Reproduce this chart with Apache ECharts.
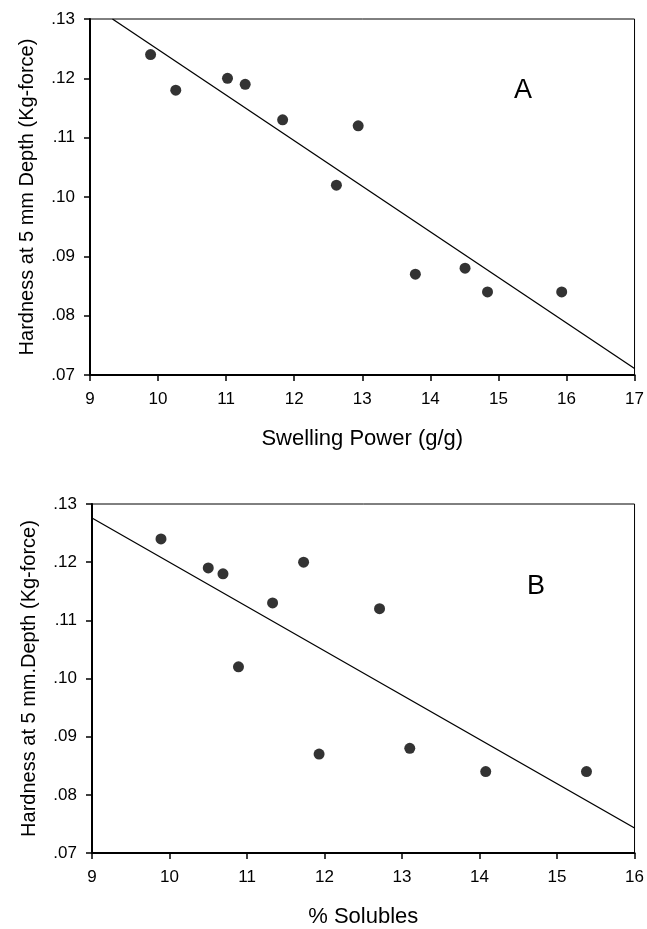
<!DOCTYPE html>
<html>
<head>
<meta charset="utf-8">
<script src="https://cdn.jsdelivr.net/npm/echarts@6/dist/echarts.min.js"></script>
<style>
  html, body { margin: 0; padding: 0; background: #fff; }
  #chart { width: 647px; height: 929px; }
</style>
</head>
<body>
<div id="chart"></div>
<script>
// panel A: swelling power vs hardness
const swellingPower = [9.89, 10.26, 11.02, 11.28, 11.83, 12.94, 12.62, 13.78, 14.51, 14.84, 15.93]
const hardnessA = [0.124, 0.118, 0.120, 0.119, 0.113, 0.112, 0.102, 0.087, 0.088, 0.084, 0.084]
// fitted line, end points
const fitAx = [9.33, 17]
const fitAy = [0.130, 0.0711]

// panel B: % solubles vs hardness
const solubles = [9.89, 10.50, 10.69, 11.73, 11.33, 10.89, 12.71, 11.93, 13.10, 14.08, 15.38]
const hardnessB = [0.124, 0.119, 0.118, 0.120, 0.113, 0.102, 0.112, 0.087, 0.088, 0.084, 0.084]
const fitBx = [9, 16]
const fitBy = [0.1276, 0.0743]

const font = 'Liberation Sans, Arial, sans-serif'

function pairs(xs, ys) {
  return xs.map((x, i) => [x, ys[i]])
}

function xAxisOf(gridIndex, min, max, name) {
  return {
    type: 'value',
    gridIndex: gridIndex,
    min: min,
    max: max,
    interval: 1,
    name: name,
    nameLocation: 'middle',
    nameGap: 53,
    nameTextStyle: { fontFamily: font, fontSize: 22, color: '#000' },
    axisLine: { show: true, lineStyle: { color: '#000', width: 2 } },
    axisTick: { show: true, inside: false, length: 6, lineStyle: { color: '#000', width: 1.5 } },
    axisLabel: { margin: 16, fontFamily: font, fontSize: 17, color: '#000' },
    splitLine: { show: false }
  }
}

function yAxisOf(gridIndex, name) {
  return {
    type: 'value',
    gridIndex: gridIndex,
    min: 0.07,
    max: 0.13,
    interval: 0.01,
    name: name,
    nameLocation: 'middle',
    nameGap: 53,
    nameTextStyle: { fontFamily: font, fontSize: 20, color: '#000' },
    axisLine: { show: true, lineStyle: { color: '#000', width: 2 } },
    axisTick: { show: true, inside: false, length: 6, lineStyle: { color: '#000', width: 1.5 } },
    axisLabel: {
      margin: 15,
      fontFamily: font,
      fontSize: 17,
      color: '#000',
      formatter: function (v) {
        return v.toFixed(2).replace(/^0/, '')
      }
    },
    splitLine: { show: false }
  }
}

const chart = echarts.init(document.getElementById('chart'), null, { renderer: 'canvas' })

const option = {
  animation: false,
  backgroundColor: '#fff',
  grid: [
    { left: 90, top: 19, width: 545, height: 356, show: true, borderColor: '#000', borderWidth: 1, backgroundColor: 'transparent' },
    { left: 92, top: 504, width: 544, height: 350, show: true, borderColor: '#000', borderWidth: 1, backgroundColor: 'transparent' }
  ],
  xAxis: [
    xAxisOf(0, 9, 17, 'Swelling Power (g/g)'),
    xAxisOf(1, 9, 16, '% Solubles')
  ],
  yAxis: [
    yAxisOf(0, 'Hardness at 5 mm Depth (Kg-force)'),
    yAxisOf(1, 'Hardness at 5 mm.Depth (Kg-force)')
  ],
  graphic: [
    { type: 'text', left: 514, top: 77, style: { text: 'A', font: '27px ' + font, fill: '#000' } },
    { type: 'text', left: 527, top: 573, style: { text: 'B', font: '27px ' + font, fill: '#000' } }
  ],
  series: [
    {
      type: 'line',
      xAxisIndex: 0,
      yAxisIndex: 0,
      data: pairs(fitAx, fitAy),
      symbol: 'none',
      lineStyle: { color: '#000', width: 1.3 },
      z: 2
    },
    {
      type: 'scatter',
      xAxisIndex: 0,
      yAxisIndex: 0,
      data: pairs(swellingPower, hardnessA),
      symbol: 'circle',
      symbolSize: 11,
      itemStyle: { color: '#000' },
      z: 3
    },
    {
      type: 'line',
      xAxisIndex: 1,
      yAxisIndex: 1,
      data: pairs(fitBx, fitBy),
      symbol: 'none',
      lineStyle: { color: '#000', width: 1.3 },
      z: 2
    },
    {
      type: 'scatter',
      xAxisIndex: 1,
      yAxisIndex: 1,
      data: pairs(solubles, hardnessB),
      symbol: 'circle',
      symbolSize: 11,
      itemStyle: { color: '#000' },
      z: 3
    }
  ]
}

chart.setOption(option)
</script>
</body>
</html>
